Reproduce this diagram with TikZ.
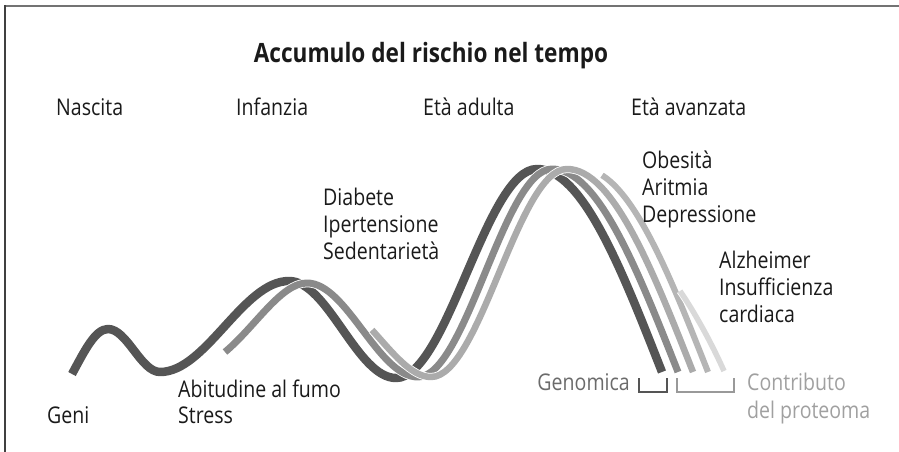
\documentclass[tikz,border=0pt]{standalone}
\usepackage{fontspec}
\setmainfont{Open Sans}[FakeStretch=0.85]
\definecolor{txt}{HTML}{1A1A1A}
\definecolor{cA}{HTML}{555555}
\definecolor{cB}{HTML}{8A8A8A}
\definecolor{cC}{HTML}{ABABAB}
\definecolor{cD}{HTML}{B5B5B5}
\definecolor{cE}{HTML}{D9D9D9}
\definecolor{genc}{HTML}{6B6B6B}
\definecolor{proc}{HTML}{A0A0A0}
\tikzset{
  lbl/.style={anchor=base west, inner sep=0pt, text=txt, font=\fontsize{23}{27}\selectfont},
  ttl/.style={anchor=base, inner sep=0pt, text=txt, font=\fontsize{26.6}{31}\selectfont\bfseries},
  wave/.style={line width=#1, line join=round, preaction={draw=white, line width=#1+1.6pt}},
}
\begin{document}
\begin{tikzpicture}[x=1pt,y=-1pt]
\useasboundingbox (0,0) rectangle (899,452);
% frame
\draw[color=black!55, line width=2pt] (5,6) -- (899,6);
\draw[color=black!75, line width=1.4pt] (5,5) -- (5,452);
% curves
\draw[wave=8.5pt, draw=cA] (72,374) .. controls (84,352) and (95,329) .. (108,329)
  .. controls (127,329) and (141,372) .. (160,372)
  .. controls (206,372) and (243,281) .. (289,281)
  .. controls (328,281) and (357,378) .. (396,378)
  .. controls (447,378) and (486,169) .. (537,169) cos (662,372);
\draw[wave=7pt, draw=cB] (225,352) .. controls (255,327) and (281,283) .. (307,283)
  .. controls (347,283) and (378,377) .. (418,377)
  .. controls (466,377) and (504,169) .. (552,169) cos (678,372);
\draw[wave=6.5pt, draw=cC] (372,330) .. controls (392,352) and (411,377) .. (431,377)
  .. controls (480,377) and (518,169) .. (567,169) cos (693,372);
\draw[wave=6pt, draw=cD] plot[domain=602:708, samples=60] (\x, {169+203*(1-cos((\x-582)/126*90))});
\draw[wave=5.5pt, draw=cE] (680,291) .. controls (695,313) and (711,342) .. (724,371);
% brackets
\draw[color=cA, line width=2pt] (639,378) -- (639,392) -- (667,392) -- (667,378);
\draw[color=black!40, line width=2pt] (677,378) -- (677,392) -- (734,392) -- (734,378);
% texts
\node[ttl] (title) at (431,63) {Accumulo del rischio nel tempo};
\node[lbl] (nascita) at (56,115) {Nascita};
\node[lbl] (infanzia) at (236,115) {Infanzia};
\node[lbl] (adulta) at (423,115) {Età adulta};
\node[lbl] (avanzata) at (631,115) {Età avanzata};
\node[lbl] (obesita) at (642,168) {Obesità};
\node[lbl] (aritmia) at (642,195) {Aritmia};
\node[lbl] (depressione) at (642,222) {Depressione};
\node[lbl] (diabete) at (323,205) {Diabete};
\node[lbl] (ipertensione) at (323,232) {Ipertensione};
\node[lbl] (sedentarieta) at (323,259) {Sedentarietà};
\node[lbl] (alzheimer) at (719,268) {Alzheimer};
\node[lbl] (insufficienza) at (719,295) {Insufficienza};
\node[lbl] (cardiaca) at (719,322) {cardiaca};
\node[lbl] (abitudine) at (178,397) {Abitudine al fumo};
\node[lbl] (stress) at (178,423) {Stress};
\node[lbl] (geni) at (47,423) {Geni};
\node[lbl, anchor=base east, text=genc] (genomica) at (630,390) {Genomica};
\node[lbl, text=proc] (contributo) at (747,390) {Contributo};
\node[lbl, text=proc] (proteoma) at (747,418) {del proteoma};
\end{tikzpicture}
\end{document}
